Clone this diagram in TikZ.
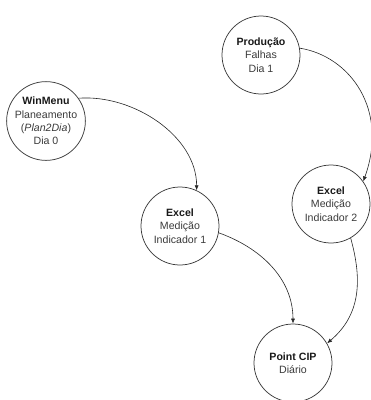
\documentclass[tikz,border=0pt]{standalone}
\usepackage{fontspec}
\setmainfont{Liberation Sans}
\usetikzlibrary{arrows.meta}
\definecolor{txtgray}{HTML}{3A3A3A}
\definecolor{ringgray}{HTML}{3C3C3C}
\tikzset{
  state/.style={circle, draw=ringgray, line width=0.75pt, minimum size=78pt,
    inner sep=0pt, align=center, text=txtgray,
    font=\fontsize{10.6}{13.4}\selectfont},
  flow/.style={draw=black!85, line width=0.6pt, -{Latex[length=5pt,width=4pt]}}
}
\newcommand{\hd}[1]{\textcolor{black!90}{\textbf{#1}}}
\begin{document}
\begin{tikzpicture}[x=1pt,y=-1pt]
\useasboundingbox (0,0) rectangle (371,400);
\node[state] (prod) at (261,55) {\hd{Produção}\\Falhas\\Dia 1};
\node[state] (win) at (46,121) {\hd{WinMenu}\\Planeamento\\(\textit{Plan2Dia})\\Dia 0};
\node[state] (ex1) at (180,226) {\hd{Excel}\\Medição\\Indicador 1};
\node[state] (ex2) at (331,204) {\hd{Excel}\\Medição\\Indicador 2};
\node[state] (pc) at (293,363) {\hd{Point CIP}\\Diário};
\draw[flow] (win.35) .. controls +(55,-4) and +(0,-54) .. (ex1.65);
\draw[flow] (prod.10) .. controls +(50,8) and +(26,-72) .. (ex2.35);
\draw[flow] (ex1.-10) .. controls +(42,15) and +(0,-45) .. (pc.90);
\draw[flow] (ex2.-60) .. controls +(12,43) and +(33,-28) .. (pc.30);
\end{tikzpicture}
\end{document}
